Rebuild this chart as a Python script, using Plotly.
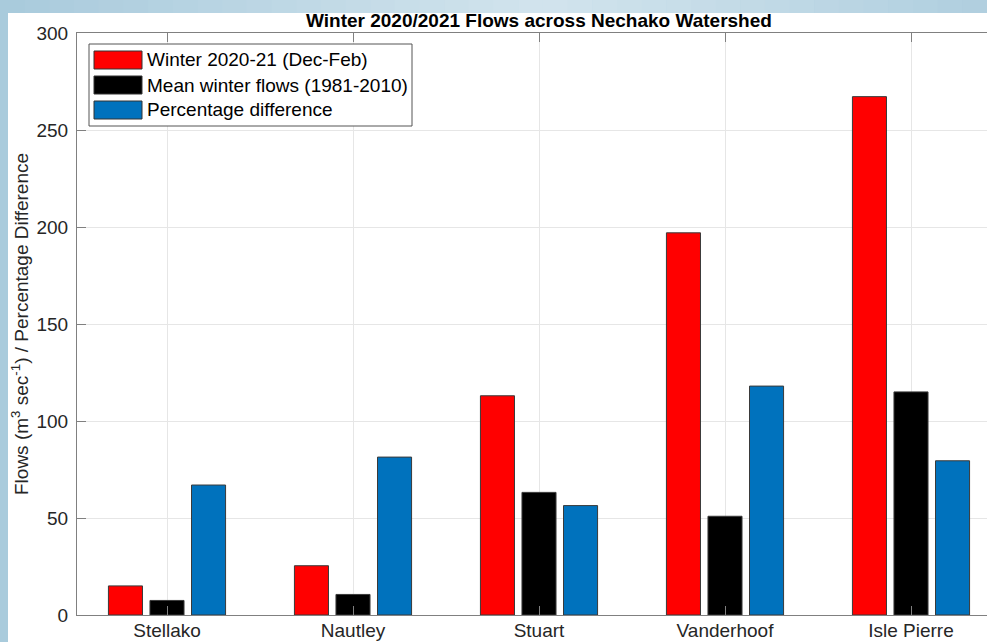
import plotly.graph_objects as go

# ---- data ----
stations = ["Stellako", "Nautley", "Stuart", "Vanderhoof", "Isle Pierre"]
winter_2020_21 = [15, 25.4, 113, 197, 267.2]
mean_winter_1981_2010 = [7.5, 10.6, 63.2, 50.9, 115]
percentage_difference = [67, 81.4, 56.4, 118, 79.5]
series_names = ["Winter 2020-21 (Dec-Feb)", "Mean winter flows (1981-2010)", "Percentage difference"]
yticks = [0, 50, 100, 150, 200, 250, 300]

colors = ["#FF0000", "#000000", "#0072BD"]
W, H = 987, 642
L, T, R, B = 77, 33, 0, 27
PW, PH = W - L - R, H - T - B
FONT = "Liberation Sans, Arial, sans-serif"
FS = 19

def px_x(px):
    return (px - L) / PW

def px_y(py):
    return (H - B - py) / PH

xs = list(range(len(stations)))
fig = go.Figure()
for name, vals, c in zip(series_names, [winter_2020_21, mean_winter_1981_2010, percentage_difference], colors):
    fig.add_trace(go.Bar(x=xs, y=vals, name=name, marker=dict(color=c, line=dict(color="#3a3a3a", width=1)),
                         showlegend=False))

shapes = []
# outer light-blue frame with gradient along top
shapes.append(dict(type="rect", xref="paper", yref="paper", x0=px_x(0), x1=px_x(W), y0=px_y(H), y1=px_y(0),
                   fillcolor="#A9CBDC", line=dict(width=0), layer="below"))
N = 40
c_edge = (0xA8, 0xCA, 0xDC)
c_mid = (0xD2, 0xE4, 0xED)
for i in range(N):
    f = (i + 0.5) / N
    t = 1 - abs(f - 0.55) / 0.55
    t = max(0.0, min(1.0, t))
    col = tuple(int(round(a + (b - a) * t)) for a, b in zip(c_edge, c_mid))
    shapes.append(dict(type="rect", xref="paper", yref="paper",
                       x0=px_x(W * i / N), x1=px_x(W * (i + 1) / N + 0.5), y0=px_y(13), y1=px_y(0),
                       fillcolor="rgb(%d,%d,%d)" % col, line=dict(width=0), layer="below"))
shapes.append(dict(type="rect", xref="paper", yref="paper", x0=px_x(8), x1=px_x(W + 2), y0=px_y(H + 2), y1=px_y(13),
                   fillcolor="#FFFFFF", line=dict(width=0), layer="below"))

# custom legend
shapes.append(dict(type="rect", xref="paper", yref="paper", x0=px_x(89), x1=px_x(412), y0=px_y(126), y1=px_y(44),
                   fillcolor="#FFFFFF", line=dict(color="#555555", width=1)))
annotations = []
row_centers = [60, 85, 110]
for name, c, yc in zip(series_names, colors, row_centers):
    shapes.append(dict(type="rect", xref="paper", yref="paper", x0=px_x(94), x1=px_x(142),
                       y0=px_y(yc + 9), y1=px_y(yc - 9), fillcolor=c, line=dict(color="#333333", width=1)))
    annotations.append(dict(xref="paper", yref="paper", x=px_x(145), y=px_y(yc), text=name, showarrow=False,
                            xanchor="left", yanchor="middle", font=dict(family=FONT, size=FS, color="#000000")))

# y axis title
annotations.append(dict(xref="paper", yref="paper", x=px_x(20), y=0.5,
                        text="Flows (m<sup>3</sup> sec<sup>-1</sup>) / Percentage Difference",
                        textangle=-90, showarrow=False, xanchor="center", yanchor="middle",
                        font=dict(family=FONT, size=FS, color="#262626")))
# title
annotations.append(dict(xref="paper", yref="paper", x=px_x(538.5), y=1, yshift=0,
                        text="<b>Winter 2020/2021 Flows across Nechako Watershed</b>", showarrow=False,
                        xanchor="center", yanchor="bottom", font=dict(family=FONT, size=FS, color="#000000")))

x0 = -90 / 186
fig.update_layout(
    width=W, height=H, margin=dict(l=L, r=R, t=T, b=B, pad=0, autoexpand=False),
    paper_bgcolor="#FFFFFF", plot_bgcolor="#FFFFFF",
    barmode="group", bargap=0.33, bargroupgap=0.18,
    shapes=shapes, annotations=annotations, showlegend=False,
    xaxis=dict(range=[x0, x0 + PW / 186], tickvals=xs, ticktext=stations, ticks="inside", ticklen=9,
               tickcolor="#808080", showline=True, linecolor="#808080", linewidth=1, mirror="ticks",
               showgrid=True, gridcolor="#E6E6E6", zeroline=False, ticklabelstandoff=-2, automargin=False,
               tickfont=dict(family=FONT, size=FS, color="#262626")),
    yaxis=dict(range=[0, 300], tickvals=yticks, ticks="inside", ticklen=9, tickcolor="#808080",
               showline=True, linecolor="#808080", linewidth=1, showgrid=True, gridcolor="#E6E6E6",
               zeroline=False, ticklabelstandoff=4, automargin=False,
               tickfont=dict(family=FONT, size=FS, color="#262626")),
)
fig.write_html("out.html", config={"displayModeBar": False},
               post_script="document.body.style.margin='0';document.body.style.overflow='hidden';")
